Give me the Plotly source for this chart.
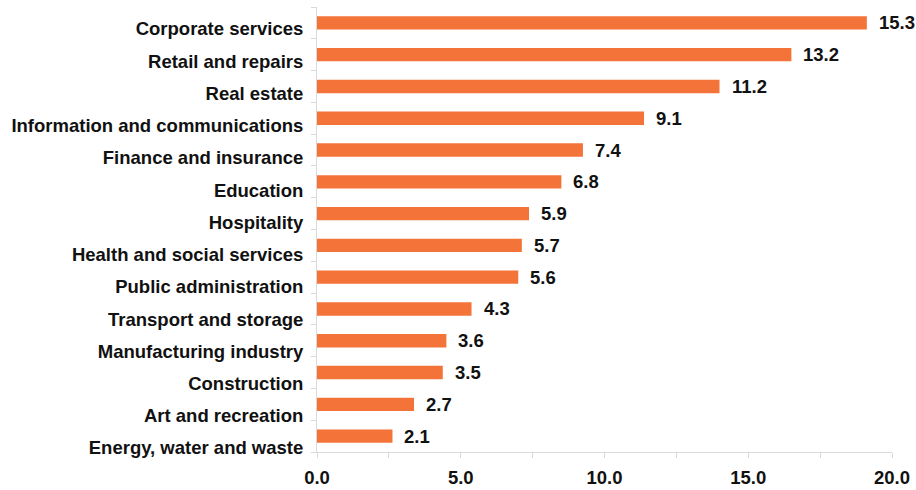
import plotly.graph_objects as go

categories = [
    "Corporate services", "Retail and repairs", "Real estate",
    "Information and communications", "Finance and insurance", "Education",
    "Hospitality", "Health and social services", "Public administration",
    "Transport and storage", "Manufacturing industry", "Construction",
    "Art and recreation", "Energy, water and waste",
]
values = [15.3, 13.2, 11.2, 9.1, 7.4, 6.8, 5.9, 5.7, 5.6, 4.3, 3.6, 3.5, 2.7, 2.1]
# axis labels as printed on the reference (its axis is drawn 1.25x the bar values)
tick_positions = [0, 4, 8, 12, 16]
tick_labels = ["0.0", "5.0", "10.0", "15.0", "20.0"]

FONT = "Liberation Sans, Arial, Helvetica, sans-serif"
ORANGE = "#F47339"
AXIS = "#D9D9D9"
FS = 18.5

cats_bottom_up = categories[::-1]
idx = list(range(len(categories)))

fig = go.Figure(go.Bar(
    y=categories, x=values, orientation="h",
    marker=dict(color=ORANGE, line=dict(width=0)),
    width=0.42,
    hoverinfo="skip",
))
# helper trace so the label axis is drawn (category names sit on a slightly looser spacing in the reference)
fig.add_trace(go.Scatter(x=[None], y=[None], yaxis="y2", showlegend=False,
                         hoverinfo="skip", mode="markers"))

for c, v in zip(categories, values):
    fig.add_annotation(x=v, y=c, text=f"{v:.1f}", showarrow=False,
                       xanchor="left", yanchor="middle", xshift=10,
                       font=dict(family=FONT, size=FS, color="#111111", weight="bold"))

fig.update_layout(
    width=916, height=490,
    margin=dict(l=317, r=24, t=7, b=38, autoexpand=False),
    paper_bgcolor="white", plot_bgcolor="white",
    showlegend=False,
    xaxis=dict(
        range=[0, 16], tickvals=tick_positions, ticktext=tick_labels,
        showgrid=False, zeroline=False,
        showline=True, linecolor=AXIS, linewidth=1,
        ticks="outside", ticklen=5, tickcolor=AXIS,
        minor=dict(dtick=2, ticks="outside", ticklen=5, tickcolor=AXIS, showgrid=False),
        tickfont=dict(family=FONT, size=FS, color="#111111", weight="bold"),
        ticklabelstandoff=4,
        automargin=False,
        fixedrange=True,
    ),
    yaxis=dict(
        categoryorder="array", categoryarray=cats_bottom_up,
        showgrid=False, zeroline=False,
        showline=True, linecolor=AXIS, linewidth=1,
        ticks="outside", ticklen=5, tickcolor=AXIS, tickson="boundaries",
        showticklabels=False,
        automargin=False,
        fixedrange=True,
    ),
    yaxis2=dict(
        overlaying="y", side="left", anchor="x",
        range=[-0.125, 13.68], tickvals=idx, ticktext=cats_bottom_up,
        showgrid=False, zeroline=False, showline=False,
        ticks="outside", ticklen=5, tickcolor="rgba(0,0,0,0)",
        ticklabelstandoff=4,
        tickfont=dict(family=FONT, size=FS, color="#111111", weight="bold"),
        automargin=False,
        fixedrange=True,
    ),
)

fig.write_html("out.html", config={"displayModeBar": False},
               post_script="document.body.style.margin='0';")
